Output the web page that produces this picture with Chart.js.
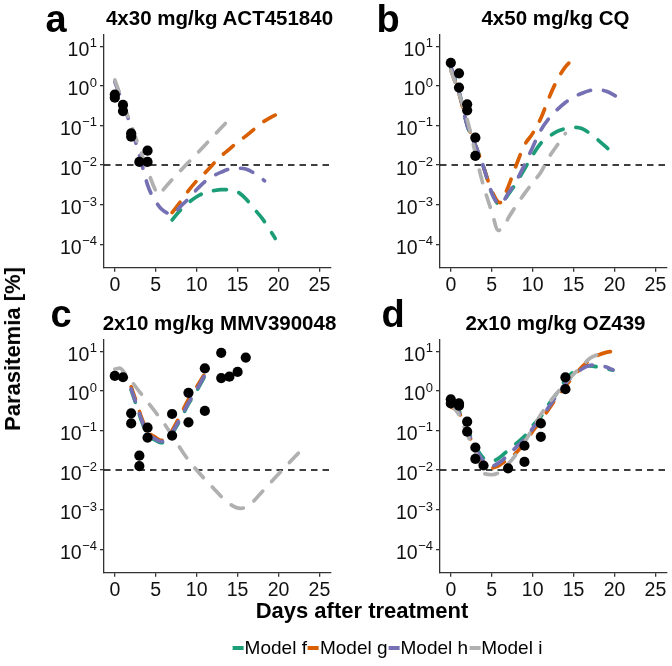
<!DOCTYPE html>
<html>
<head>
<meta charset="utf-8">
<script src="https://cdn.jsdelivr.net/npm/chart.js@4.4.1/dist/chart.umd.min.js"></script>
<style>
  body { margin: 0; background: #fff; }
  #fig { position: relative; width: 672px; height: 666px; overflow: hidden; font-family: "Liberation Sans", Arial, sans-serif; color: #000; }
  canvas { position: absolute; }
  .lbl { position: absolute; white-space: nowrap; }
  .title { font-weight: bold; font-size: 20.5px; line-height: 24px; width: 320px; text-align: center; }
  .letter { font-weight: bold; font-size: 38px; line-height: 40px; }
  .axtitle { font-weight: bold; font-size: 22px; line-height: 26px; transform: translate(-50%, -50%); }
  #legend { position: absolute; left: 387px; top: 648px; transform: translate(-50%, -50%); display: flex; align-items: center; font-size: 19px; line-height: 22px; white-space: nowrap; }
  #legend .key { display: inline-block; width: 11px; height: 4px; margin: 0 1px 0 1px; }
</style>
</head>
<body>
<div id="fig">
  <canvas id="pa" width="336" height="305" style="left:0;top:0"></canvas>
  <canvas id="pb" width="336" height="305" style="left:336px;top:0"></canvas>
  <canvas id="pc" width="336" height="305" style="left:0;top:305px"></canvas>
  <canvas id="pd" width="336" height="305" style="left:336px;top:305px"></canvas>

  <div class="lbl letter" style="left:45.5px;top:-1px">a</div>
  <div class="lbl letter" style="left:376.5px;top:-1px">b</div>
  <div class="lbl letter" style="left:50.5px;top:294px">c</div>
  <div class="lbl letter" style="left:381.5px;top:294px">d</div>

  <div class="lbl title" style="left:59.5px;top:6px">4x30 mg/kg ACT451840</div>
  <div class="lbl title" style="left:395.5px;top:6px">4x50 mg/kg CQ</div>
  <div class="lbl title" style="left:59.5px;top:311px">2x10 mg/kg MMV390048</div>
  <div class="lbl title" style="left:395.5px;top:311px">2x10 mg/kg OZ439</div>

  <div class="lbl axtitle" style="left:13px;top:349px;transform:translate(-50%,-50%) rotate(-90deg)">Parasitemia [%]</div>
  <div class="lbl axtitle" style="left:362px;top:611px">Days after treatment</div>
  <div id="legend"></div>
</div>

<script>
// model colours
const modelNames = ['Model f', 'Model g', 'Model h', 'Model i'];
const modelColors = ['#1B9E77', '#D95F02', '#7570B3', '#B0B0B0'];

// axes
const xTicks = [0, 5, 10, 15, 20, 25];
const yTicks = [0.0001, 0.001, 0.01, 0.1, 1, 10];
const yTickExps = ['\u22124', '\u22123', '\u22122', '\u22121', '0', '1'];
const X_MIN = -1.32, X_MAX = 26.4;
const Y_MIN = Math.pow(10, -4.593), Y_MAX = Math.pow(10, 1.283);
const THRESHOLD = 0.01;

// a: 4x30 mg/kg ACT451840
const aObsDays = [0, 0, 1, 1, 2, 2, 3, 4, 4];
const aObs = [0.6, 0.5, 0.33, 0.23, 0.063, 0.052, 0.012, 0.012, 0.023];
const aFDays = [7, 8, 9, 10, 11, 12, 13, 14, 15, 16, 17, 18, 19, 19.6];
const aF = [0.00041, 0.00072, 0.00112, 0.00158, 0.0020, 0.00224, 0.0024, 0.0024, 0.0021, 0.00141, 0.00079, 0.00045, 0.00022, 0.00014];
const aGDays = [7, 8, 9, 10, 11, 12, 13, 14, 15, 16, 17, 18, 19, 19.6];
const aG = [0.00063, 0.00117, 0.00224, 0.00398, 0.0063, 0.0105, 0.017, 0.0251, 0.038, 0.0537, 0.0794, 0.1175, 0.158, 0.182];
const aHDays = [0, 1, 2, 3, 4, 4.5, 5, 5.6, 6.3, 7, 8, 9, 10, 11, 12, 13, 14, 15, 16, 17, 18, 18.3];
const aH = [1.26, 0.355, 0.089, 0.0178, 0.00316, 0.00178, 0.0012, 0.00081, 0.00063, 0.00056, 0.00089, 0.00141, 0.0024, 0.0038, 0.00525, 0.0066, 0.0079, 0.0083, 0.0079, 0.0063, 0.00447, 0.00398];
const aIDays = [0, 1, 2, 3, 4, 5, 5.4, 6, 7, 8, 9, 10, 11, 12, 13, 13.5];
const aI = [1.41, 0.38, 0.102, 0.0275, 0.0074, 0.00224, 0.00178, 0.0025, 0.00427, 0.0071, 0.0117, 0.019, 0.0316, 0.0525, 0.087, 0.112];

// b: 4x50 mg/kg CQ
const bObsDays = [0, 1, 1, 2, 2, 3, 3];
const bObs = [3.8, 2.07, 0.9, 0.34, 0.24, 0.049, 0.017];
const bFDays = [0, 1, 2, 3, 4, 5, 6, 7, 8, 9, 10, 11, 12, 13, 14, 15, 16, 17, 18, 19, 20];
const bF = [2.82, 0.71, 0.1, 0.0316, 0.0089, 0.002, 0.001, 0.00178, 0.00355, 0.0079, 0.0178, 0.0355, 0.0525, 0.0708, 0.0832, 0.0891, 0.0832, 0.063, 0.0427, 0.0282, 0.0178];
const bGDays = [0, 1, 2, 3, 4, 5, 6, 7, 8, 9, 10, 11, 12, 13, 14, 15.2];
const bG = [2.51, 0.631, 0.112, 0.0316, 0.0089, 0.00224, 0.00112, 0.0028, 0.01, 0.0316, 0.063, 0.151, 0.5, 1.41, 3.0, 5.25];
const bHDays = [0, 1, 2, 3, 4, 5, 6, 7, 8, 9, 10, 11, 12, 13, 14, 15, 16, 17, 18, 19, 20, 20.8];
const bH = [3.16, 0.71, 0.1, 0.0316, 0.0089, 0.002, 0.001, 0.0019, 0.00398, 0.01, 0.0282, 0.0759, 0.151, 0.251, 0.38, 0.525, 0.646, 0.759, 0.794, 0.724, 0.575, 0.457];
const bIDays = [0, 1, 2, 3, 3.8, 5, 5.8, 6.5, 7, 8, 9, 10, 11, 12, 13, 14];
const bI = [2.51, 0.631, 0.141, 0.02, 0.00417, 0.00066, 0.000224, 0.00028, 0.000447, 0.00095, 0.0019, 0.00355, 0.0066, 0.0158, 0.0316, 0.063];

// c: 2x10 mg/kg MMV390048
const cObsDays = [0, 1, 2, 2, 3, 3, 4, 4, 7, 7, 9, 9, 11, 11, 13, 13, 14, 15, 16];
const cObs = [2.37, 2.2, 0.27, 0.15, 0.023, 0.0126, 0.117, 0.066, 0.26, 0.074, 0.89, 0.16, 3.7, 0.31, 9.1, 2.1, 2.27, 3.0, 6.9];
const cModelDays = [2, 2.8, 3.3, 4, 5, 5.6, 6, 6.6, 7, 8, 9, 10, 11.2];
const cF = [1.05, 0.34, 0.166, 0.079, 0.056, 0.049, 0.05, 0.064, 0.083, 0.186, 0.466, 1.0, 2.8];
const cG = [1.26, 0.417, 0.2, 0.0955, 0.066, 0.056, 0.0575, 0.0759, 0.1, 0.24, 0.603, 1.26, 3.16];
const cH = [1.12, 0.363, 0.178, 0.085, 0.06, 0.0525, 0.0537, 0.069, 0.089, 0.2, 0.5, 1.07, 3.0];
const cIDays = [0, 0.6, 1.2, 2, 3, 6, 9, 12, 14, 15.4, 16.5, 18, 20, 23];
const cI = [3.55, 3.72, 2.82, 1.78, 0.955, 0.151, 0.0178, 0.00355, 0.00141, 0.00107, 0.00135, 0.00282, 0.0079, 0.0355];

// d: 2x10 mg/kg OZ439
const dObsDays = [0, 0, 1, 1, 2, 2, 3, 3, 4, 7, 9, 9, 11, 11, 14, 14];
const dObs = [0.61, 0.48, 0.48, 0.42, 0.166, 0.093, 0.037, 0.019, 0.013, 0.011, 0.041, 0.016, 0.15, 0.069, 2.19, 1.1];
const dFDays = [0, 1, 2, 3, 4, 5, 6, 7, 8, 9, 10, 11, 12, 13, 14, 15, 16, 17, 18, 19, 19.8];
const dF = [0.501, 0.316, 0.112, 0.0398, 0.02, 0.0166, 0.0209, 0.0316, 0.0468, 0.0708, 0.132, 0.224, 0.468, 0.891, 1.905, 3.02, 3.98, 4.27, 3.98, 3.63, 3.31];
const dGDays = [0, 1, 2, 3, 4, 5, 5.5, 6, 7, 8, 9, 10, 11, 12, 13, 14, 15, 16, 17, 18, 19, 20, 20.8];
const dG = [0.398, 0.282, 0.1, 0.0316, 0.0141, 0.0112, 0.012, 0.0135, 0.019, 0.0275, 0.0479, 0.0955, 0.178, 0.355, 0.708, 1.32, 2.29, 3.98, 6.03, 7.94, 9.33, 10.0, 9.33];
const dHDays = [0, 1, 2, 3, 4, 5, 6, 7, 8, 9, 10, 11, 12, 13, 14, 15, 16, 17, 18, 19, 19.8];
const dH = [0.447, 0.282, 0.1, 0.0355, 0.0166, 0.0126, 0.0158, 0.024, 0.038, 0.06, 0.112, 0.209, 0.398, 0.794, 1.51, 2.51, 3.55, 4.37, 4.47, 3.98, 3.39];
const dIDays = [0, 1, 2, 3, 4, 5, 6, 7, 8, 9, 10, 11, 12, 13, 14, 15, 16, 17, 18];
const dI = [0.447, 0.251, 0.0794, 0.0282, 0.0083, 0.0076, 0.0089, 0.0141, 0.0251, 0.05, 0.112, 0.251, 0.5, 0.891, 1.585, 2.63, 4.17, 6.6, 8.3];

function xy(days, vals) {
  return days.map((d, i) => ({ x: d, y: vals[i] }));
}

// ggplot-like tick labels: 10 with a superscript exponent
const tickLabels = {
  id: 'tickLabels',
  afterDraw(chart) {
    const ctx = chart.ctx;
    const xs = chart.scales.x, ys = chart.scales.y;
    ctx.save();
    ctx.fillStyle = '#111';
    ctx.textBaseline = 'alphabetic';
    yTicks.forEach((v, i) => {
      const py = ys.getPixelForValue(v);
      ctx.font = '13px "Liberation Sans", Arial';
      const ew = ctx.measureText(yTickExps[i]).width;
      ctx.textAlign = 'left';
      ctx.fillText(yTickExps[i], 97 - ew, py + 1);
      ctx.font = '19.5px "Liberation Sans", Arial';
      ctx.textAlign = 'right';
      ctx.fillText('10', 97 - ew - 0.5, py + 9.5);
    });
    ctx.font = '19.5px "Liberation Sans", Arial';
    ctx.textAlign = 'center';
    xTicks.forEach(v => {
      ctx.fillText(String(v), xs.getPixelForValue(v), 290.5);
    });
    ctx.restore();
  }
};

function modelLine(label, color, data, order) {
  return {
    label: label, data: data, borderColor: color, backgroundColor: color,
    borderWidth: 3.7, borderDash: [13, 13], borderCapStyle: 'round',
    cubicInterpolationMode: 'monotone', pointRadius: 0, fill: false, order: order
  };
}

function makePanel(id, obsDays, obs, models) {
  const datasets = [{
    label: 'data', data: xy(obsDays, obs), showLine: false,
    pointRadius: 5.1, pointBackgroundColor: '#000', pointBorderWidth: 0, order: 0
  }];
  models.forEach((m, i) => {
    if (m) datasets.push(modelLine(modelNames[i], modelColors[i], m, 4 - i));
  });
  datasets.push({
    label: 'threshold', data: xy([X_MIN, X_MAX], [THRESHOLD, THRESHOLD]),
    borderColor: '#000', borderWidth: 1.7, borderDash: [6.5, 5], pointRadius: 0, order: 6
  });

  const axisGrid = { drawOnChartArea: false, drawTicks: true, tickLength: 4, color: '#333', lineWidth: 1.3 };
  const axisBorder = { display: true, color: '#333', width: 1.3 };

  new Chart(document.getElementById(id), {
    type: 'line',
    data: { datasets: datasets },
    options: {
      responsive: false, animation: false, devicePixelRatio: 1,
      layout: { padding: { top: 35, right: 1, left: 0, bottom: 0 } },
      plugins: { legend: { display: false }, tooltip: { enabled: false } },
      scales: {
        x: {
          type: 'linear', min: X_MIN, max: X_MAX,
          afterBuildTicks: s => { s.ticks = xTicks.map(v => ({ value: v })); },
          afterFit: s => { s.height = 37.3; },
          ticks: { display: false }, grid: axisGrid, border: axisBorder
        },
        y: {
          type: 'logarithmic', min: Y_MIN, max: Y_MAX,
          afterBuildTicks: s => { s.ticks = yTicks.map(v => ({ value: v })); },
          afterFit: s => { s.width = 104; },
          ticks: { display: false }, grid: axisGrid, border: axisBorder
        }
      }
    },
    plugins: [tickLabels]
  });
}

makePanel('pa', aObsDays, aObs, [xy(aFDays, aF), xy(aGDays, aG), xy(aHDays, aH), xy(aIDays, aI)]);
makePanel('pb', bObsDays, bObs, [xy(bFDays, bF), xy(bGDays, bG), xy(bHDays, bH), xy(bIDays, bI)]);
makePanel('pc', cObsDays, cObs, [xy(cModelDays, cF), xy(cModelDays, cG), xy(cModelDays, cH), xy(cIDays, cI)]);
makePanel('pd', dObsDays, dObs, [xy(dFDays, dF), xy(dGDays, dG), xy(dHDays, dH), xy(dIDays, dI)]);

// legend
const legend = document.getElementById('legend');
modelNames.forEach((name, i) => {
  const key = document.createElement('span');
  key.className = 'key';
  key.style.background = modelColors[i];
  legend.appendChild(key);
  const txt = document.createElement('span');
  txt.textContent = name;
  legend.appendChild(txt);
});
</script>
</body>
</html>
